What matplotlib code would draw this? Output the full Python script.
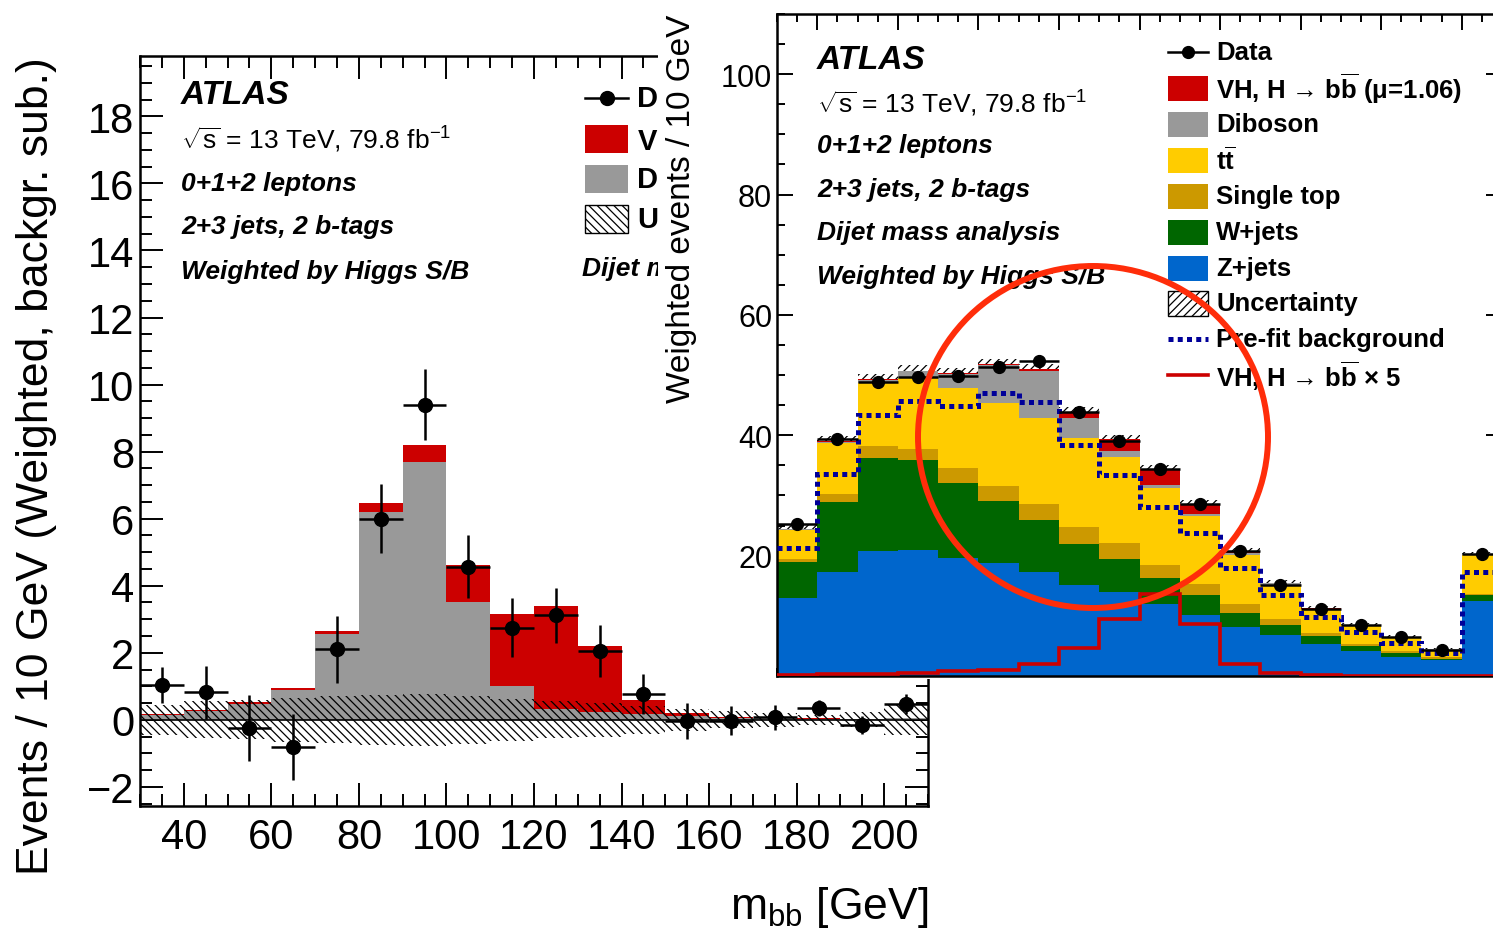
import numpy as np
import matplotlib
matplotlib.use("Agg")
import matplotlib.pyplot as plt
from matplotlib.patches import Rectangle, Ellipse
from matplotlib.lines import Line2D
from matplotlib.ticker import MultipleLocator, FixedLocator

# ---------------------------------------------------------------- data
bin_edges = [30, 40, 50, 60, 70, 80, 90, 100, 110, 120, 130, 140, 150,
             160, 170, 180, 190, 200, 210]

# background-subtracted distribution
sub_data = [1.04, 0.82, -0.25, -0.81, 2.10, 6.00, 9.40, 4.56, 2.75, 3.12,
            2.06, 0.76, -0.04, -0.02, 0.08, 0.35, -0.15, 0.47]
sub_err = [0.55, 0.80, 0.98, 0.98, 0.99, 1.03, 1.05, 0.94, 0.89, 0.82,
           0.77, 0.60, 0.53, 0.43, 0.37, 0.25, 0.26, 0.30]
sub_diboson = [0.15, 0.25, 0.48, 0.88, 2.55, 6.21, 7.68, 3.51, 1.01, 0.33,
               0.23, 0.17, 0.10, 0.05, 0.04, 0.03, 0.02, 0.04]
sub_vh = [0.02, 0.03, 0.04, 0.07, 0.11, 0.25, 0.52, 1.10, 2.14, 3.06,
          1.98, 0.42, 0.10, 0.03, 0.02, 0.01, 0.01, 0.01]
sub_unc = [0.45, 0.55, 0.58, 0.65, 0.70, 0.75, 0.77, 0.72, 0.62, 0.55,
           0.50, 0.42, 0.32, 0.25, 0.20, 0.15, 0.22, 0.45]

# full weighted distribution
zjets = [12.95, 17.3, 20.7, 21.0, 19.6, 18.7, 17.3, 15.1, 13.9, 12.0,
         10.2, 8.2, 6.8, 5.4, 4.2, 3.2, 2.6, 12.4]
wjets = [6.0, 11.6, 15.5, 14.9, 12.5, 10.4, 8.7, 6.9, 5.6, 4.3,
         3.2, 2.2, 1.7, 1.2, 0.85, 0.7, 0.3, 1.0]
single_top = [0.55, 1.4, 2.0, 1.9, 2.4, 2.5, 2.6, 2.7, 2.6, 2.1,
              1.9, 1.5, 1.0, 0.6, 0.35, 0.3, 0.2, 0.3]
ttbar = [4.7, 8.4, 10.5, 11.7, 13.3, 13.7, 14.3, 14.8, 14.3, 12.9,
         11.3, 8.2, 5.7, 3.85, 3.0, 2.2, 1.3, 6.4]
diboson = [0.25, 0.25, 0.5, 1.1, 2.4, 6.3, 7.7, 3.4, 1.0, 0.4,
           0.3, 0.3, 0.2, 0.15, 0.1, 0.08, 0.05, 0.1]
vh = [0.04, 0.06, 0.08, 0.10, 0.16, 0.21, 0.40, 0.92, 1.90, 2.74,
      1.74, 0.40, 0.09, 0.02, 0.01, 0.01, 0.01, 0.01]
data = [25.2, 39.3, 48.9, 49.6, 49.8, 51.3, 52.3, 43.8, 39.0, 34.4,
        28.6, 20.7, 15.2, 11.2, 8.4, 6.4, 4.4, 20.3]
data_err = [0.35, 0.45, 0.5, 0.5, 0.5, 0.5, 0.55, 0.5, 0.45, 0.45,
            0.4, 0.35, 0.3, 0.25, 0.2, 0.2, 0.15, 0.3]
bkg_unc = [0.6, 0.8, 0.9, 0.9, 0.9, 0.9, 0.9, 0.8, 0.8, 0.7,
           0.6, 0.5, 0.4, 0.35, 0.3, 0.25, 0.2, 0.4]
prefit_bkg = [21.2, 33.5, 43.3, 45.7, 44.9, 47.0, 45.5, 38.4, 33.4, 28.1,
              23.7, 18.0, 13.4, 9.8, 7.3, 5.5, 3.8, 17.3]
signal_scale = 5

# ---------------------------------------------------------------- style
plt.rcParams["font.family"] = ["Liberation Sans", "DejaVu Sans"]
plt.rcParams["mathtext.fontset"] = "custom"
plt.rcParams["mathtext.rm"] = "Liberation Sans"
plt.rcParams["mathtext.it"] = "Liberation Sans:italic"
plt.rcParams["mathtext.bf"] = "Liberation Sans:bold"
plt.rcParams["hatch.linewidth"] = 0.9
plt.rcParams["hatch.color"] = "black"

RED = "#CC0000"
GREY = "#999999"
YELLOW = "#FFCC00"
GOLD = "#CC9900"
GREEN = "#006600"
BLUE = "#0066CC"
NAVY = "#000099"

BB = r"$\mathbf{b\overline{b}}$"
TT = r"$\mathbf{t\overline{t}}$"
LUMI = r"$\sqrt{\mathrm{s}}$ = 13 TeV, 79.8 fb$^{-1}$"

W, H = 1493, 937
fig = plt.figure(figsize=(W / 100, H / 100), dpi=100)


def fx(x):
    return x / W


def fy(y):
    return 1 - y / H


def box(x0, y0, x1, y1):
    return [fx(x0), fy(y1), (x1 - x0) / W, (y1 - y0) / H]


edges = np.array(bin_edges, dtype=float)
centers = 0.5 * (edges[:-1] + edges[1:])
half = 0.5 * np.diff(edges)


def style_axes(ax, major_len, minor_len, labelsize, pad):
    ax.tick_params(which="both", direction="in", top=True, right=True,
                   width=1.4, labelsize=labelsize, pad=pad)
    ax.tick_params(which="major", length=major_len)
    ax.tick_params(which="minor", length=minor_len)
    for sp in ax.spines.values():
        sp.set_linewidth(1.8)


# ================================================================ left panel
ax1 = fig.add_axes(box(140, 57, 928, 807))
ax1.set_zorder(1)

d1 = np.array(sub_diboson)
v1 = np.array(sub_vh)
u1 = np.array(sub_unc)
ax1.stairs(d1, edges, baseline=0, fill=True, color=GREY, lw=0, zorder=2)
ax1.stairs(d1 + v1, edges, baseline=d1, fill=True, color=RED, lw=0, zorder=2)
ax1.stairs(u1, edges, baseline=-u1, fill=True, facecolor="none",
           edgecolor="black", hatch="\\\\\\\\", lw=0, zorder=3)
ax1.axhline(0, color="black", lw=1.2, zorder=3)
ax1.errorbar(centers, sub_data, yerr=sub_err, xerr=half, fmt="o", color="black",
             ms=10, elinewidth=1.8, capsize=0, zorder=5)

ax1.set_xlim(edges[0], edges[-1])
ax1.set_ylim(-2.57, 19.8)
ax1.xaxis.set_major_locator(MultipleLocator(20))
ax1.xaxis.set_minor_locator(MultipleLocator(5))
ax1.yaxis.set_major_locator(MultipleLocator(2))
ax1.yaxis.set_minor_locator(MultipleLocator(0.5))
style_axes(ax1, 16.5, 8.5, 30, 4)
ax1.tick_params(axis="x", pad=8)

ax1.set_ylabel("Events / 10 GeV (Weighted, backgr. sub.)", fontsize=32,
               loc="top")
ax1.yaxis.set_label_coords((57 - 140) / 788, 1.0)
ax1.set_xlabel(r"m$_{\mathrm{bb}}$ [GeV]", fontsize=32, loc="right")
ax1.xaxis.set_label_coords(1.0, -0.104)

tf = fig.transFigure
ax1.text(fx(181), fy(104), "ATLAS", transform=tf, fontsize=24,
         fontweight="bold", fontstyle="italic")
ax1.text(fx(181), fy(149), LUMI, transform=tf, fontsize=19)
for txt, yb in [("0+1+2 leptons", 191), ("2+3 jets, 2 b-tags", 234),
                ("Weighted by Higgs S/B", 279)]:
    ax1.text(fx(181), fy(yb), txt, transform=tf, fontsize=19,
             fontweight="bold", fontstyle="italic")
ax1.text(fx(582), fy(276), "Dijet mass analysis", transform=tf, fontsize=19,
         fontweight="bold", fontstyle="italic")

# legend of the left panel
lx0, lx1, ltx = 585, 628, 637
ax1.add_line(Line2D([fx(lx0), fx(lx1)], [fy(99), fy(99)], transform=tf,
                    color="black", lw=1.8, zorder=6))
ax1.add_line(Line2D([fx((lx0 + lx1) / 2)], [fy(99)], transform=tf,
                    marker="o", ms=10, color="black", zorder=6))
for yc, fc, hatch in [(139.5, RED, None), (180, GREY, None),
                      (220, "white", "\\\\\\\\")]:
    ax1.add_patch(Rectangle((fx(lx0), fy(yc + 14)), (lx1 - lx0) / W, 28 / H,
                            transform=tf, facecolor=fc,
                            edgecolor="black" if hatch else fc,
                            lw=1.0 if hatch else 0, hatch=hatch,
                            clip_on=False, zorder=6))
for yc, lab in [(99, "Data"),
                (139.5, "VH, H → " + BB + " (μ=1.06)"),
                (180, "Diboson"), (220, "Uncertainty")]:
    ax1.text(fx(ltx), fy(yc), lab, transform=tf, fontsize=21,
             fontweight="bold", va="center")

# white backing behind the right panel
fig.add_artist(Rectangle((fx(658), fy(680)), 1 - fx(658), 680 / H,
                         transform=tf, facecolor="white", edgecolor="none",
                         zorder=2))

# ================================================================ right panel
ax2 = fig.add_axes(box(777, 15, 1502, 677))
ax2.set_zorder(3)

layers = [(zjets, BLUE), (wjets, GREEN), (single_top, GOLD), (ttbar, YELLOW),
          (diboson, GREY), (vh, RED)]
base = np.zeros(len(centers))
for vals, col in layers:
    top = base + np.array(vals)
    ax2.stairs(top, edges, baseline=base.copy(), fill=True, color=col, lw=0,
               zorder=2)
    base = top
total = base
unc = np.array(bkg_unc)
ax2.stairs(total + unc, edges, baseline=total - unc, fill=True,
           facecolor="none", edgecolor="black", hatch="////", lw=0, zorder=1)
ax2.stairs(prefit_bkg, edges, baseline=None, color=NAVY, lw=3.6,
           ls=(0, (1, 0.85)), zorder=3)
ax2.stairs(np.array(vh) * signal_scale, edges, baseline=None, color=RED,
           lw=2.6, zorder=3)
ax2.errorbar(centers, data, yerr=data_err, xerr=half, fmt="o", color="black",
             ms=8.5, elinewidth=1.8, capsize=0, zorder=5)

ax2.set_xlim(edges[0], edges[-1])
ax2.set_ylim(0, 110)
ax2.xaxis.set_major_locator(MultipleLocator(20))
ax2.xaxis.set_minor_locator(MultipleLocator(5))
ax2.yaxis.set_major_locator(FixedLocator([20, 40, 60, 80, 100]))
ax2.yaxis.set_minor_locator(MultipleLocator(5))
style_axes(ax2, 11.5, 5.8, 22, 3.5)
ax2.tick_params(axis="x", labelbottom=False)
ax2.set_ylabel("Weighted events / 10 GeV", fontsize=24, loc="top")
ax2.yaxis.set_label_coords((697 - 777) / 725, 1.0)

ax2.text(fx(817), fy(69), "ATLAS", transform=tf, fontsize=24,
         fontweight="bold", fontstyle="italic")
ax2.text(fx(817), fy(113), LUMI, transform=tf, fontsize=19)
for txt, yb in [("0+1+2 leptons", 153), ("2+3 jets, 2 b-tags", 197),
                ("Dijet mass analysis", 240), ("Weighted by Higgs S/B", 284)]:
    ax2.text(fx(817), fy(yb), txt, transform=tf, fontsize=19,
             fontweight="bold", fontstyle="italic")

# legend of the right panel
rx0, rx1, rtx = 1168, 1208, 1216
ax2.add_line(Line2D([fx(rx0), fx(rx1)], [fy(53), fy(53)], transform=tf,
                    color="black", lw=1.8, zorder=6))
ax2.add_line(Line2D([fx((rx0 + rx1) / 2)], [fy(53)], transform=tf,
                    marker="o", ms=8.5, color="black", zorder=6))
for yc, fc, hatch in [(89, RED, None), (125, GREY, None), (161, YELLOW, None),
                      (197, GOLD, None), (233, GREEN, None), (269, BLUE, None),
                      (304, "white", "////")]:
    ax2.add_patch(Rectangle((fx(rx0), fy(yc + 12.5)), (rx1 - rx0) / W, 25 / H,
                            transform=tf, facecolor=fc,
                            edgecolor="black" if hatch else fc,
                            lw=1.0 if hatch else 0, hatch=hatch,
                            clip_on=False, zorder=6))
ax2.add_line(Line2D([fx(rx0), fx(rx1)], [fy(340), fy(340)], transform=tf,
                    color=NAVY, lw=3.6, ls=(0, (1, 0.85)), zorder=6))
ax2.add_line(Line2D([fx(rx0), fx(rx1)], [fy(376), fy(376)], transform=tf,
                    color=RED, lw=2.6, zorder=6))
for yc, lab in [(53, "Data"),
                (89, "VH, H → " + BB + " (μ=1.06)"),
                (125, "Diboson"), (161, TT),
                (197, "Single top"), (233, "W+jets"), (269, "Z+jets"),
                (304, "Uncertainty"), (340, "Pre-fit background"),
                (376, "VH, H → " + BB + " × 5")]:
    ax2.text(fx(rtx), fy(yc), lab, transform=tf, fontsize=18.5,
             fontweight="bold", va="center")

# ================================================================ highlight ring
ax3 = fig.add_axes([0, 0, 1, 1])
ax3.set_zorder(10)
ax3.patch.set_alpha(0)
ax3.set_xlim(0, W)
ax3.set_ylim(H, 0)
ax3.axis("off")
ax3.add_patch(Ellipse((1093, 438), 350, 342, fill=False, edgecolor="#FF2D0A",
                      lw=4.3))

fig.savefig("out.png", dpi=100)
